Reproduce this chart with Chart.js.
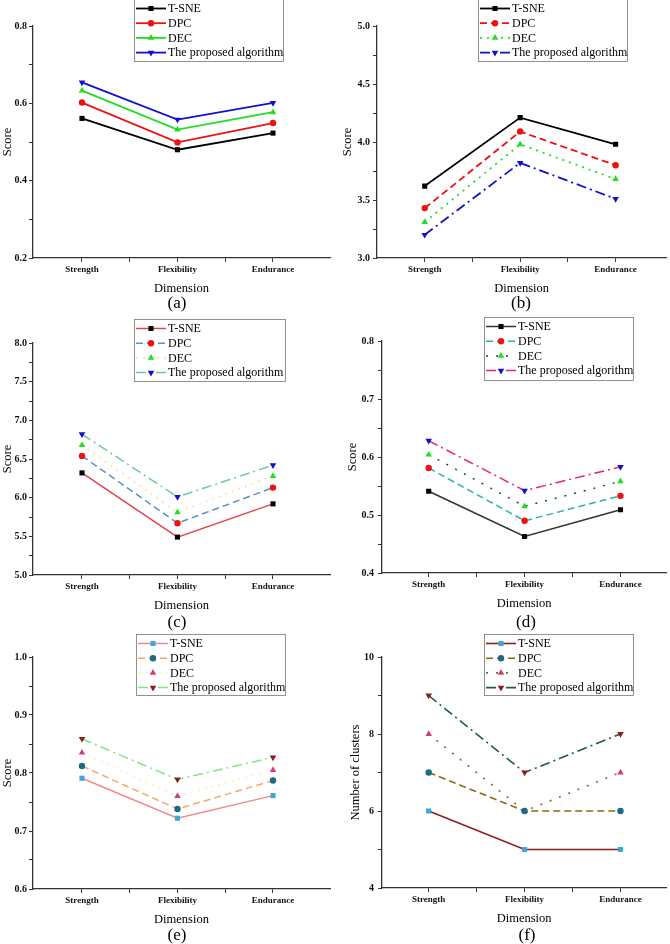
<!DOCTYPE html>
<html>
<head>
<meta charset="utf-8">
<script src="https://cdn.jsdelivr.net/npm/chart.js@4.4.1/dist/chart.umd.min.js"></script>
<style>
  body { margin: 0; background: #fff; width: 670px; height: 944px; position: relative; overflow: hidden; }
  canvas { position: absolute; }
  .letra { position: absolute; width: 40px; line-height: 20px; text-align: center;
           font-family: "Liberation Serif", serif; font-size: 17px; color: #000; }
</style>
</head>
<body>
<canvas id="ga" width="335" height="310" style="left:0;top:0"></canvas>
<canvas id="gb" width="335" height="310" style="left:335px;top:0"></canvas>
<canvas id="gc" width="335" height="315" style="left:0;top:310px"></canvas>
<canvas id="gd" width="335" height="315" style="left:335px;top:310px"></canvas>
<canvas id="ge" width="335" height="319" style="left:0;top:625px"></canvas>
<canvas id="gf" width="335" height="319" style="left:335px;top:625px"></canvas>
<div class="letra" style="left:157px;top:293px">(a)</div>
<div class="letra" style="left:501px;top:293px">(b)</div>
<div class="letra" style="left:157px;top:612px">(c)</div>
<div class="letra" style="left:506px;top:612px">(d)</div>
<div class="letra" style="left:157px;top:925px">(e)</div>
<div class="letra" style="left:507px;top:925px">(f)</div>
<script>
var dimensiones = ["Strength", "Flexibility", "Endurance"];
var metodos = ["T-SNE", "DPC", "DEC", "The proposed algorithm"];

// (a)
var a_tsne = [0.561, 0.480, 0.523];
var a_dpc  = [0.602, 0.499, 0.549];
var a_dec  = [0.633, 0.532, 0.577];
var a_prop = [0.654, 0.558, 0.601];
var a_ticks = [0.2, 0.4, 0.6, 0.8];
// (b)
var b_tsne = [3.62, 4.21, 3.98];
var b_dpc  = [3.43, 4.09, 3.80];
var b_dec  = [3.31, 3.98, 3.68];
var b_prop = [3.20, 3.82, 3.51];
var b_ticks = [3.0, 3.5, 4.0, 4.5, 5.0];
// (c)
var c_tsne = [6.32, 5.49, 5.92];
var c_dpc  = [6.54, 5.67, 6.13];
var c_dec  = [6.68, 5.81, 6.28];
var c_prop = [6.82, 6.01, 6.42];
var c_ticks = [5.0, 5.5, 6.0, 6.5, 7.0, 7.5, 8.0];
// (d)
var d_tsne = [0.541, 0.463, 0.509];
var d_dpc  = [0.581, 0.490, 0.533];
var d_dec  = [0.604, 0.515, 0.558];
var d_prop = [0.628, 0.542, 0.583];
var d_ticks = [0.4, 0.5, 0.6, 0.7, 0.8];
// (e)
var e_tsne = [0.791, 0.722, 0.761];
var e_dpc  = [0.812, 0.738, 0.787];
var e_dec  = [0.835, 0.760, 0.805];
var e_prop = [0.859, 0.789, 0.827];
var e_ticks = [0.6, 0.7, 0.8, 0.9, 1.0];
// (f)
var f_tsne = [6, 5, 5];
var f_dpc  = [7, 6, 6];
var f_dec  = [8, 6, 7];
var f_prop = [9, 7, 8];
var f_ticks = [4, 6, 8, 10];

var FUENTE = '"Liberation Serif", "Times New Roman", serif';
var formas = ["rect", "circle", "triangle", "triangle"];
var giros = [0, 0, 0, 180];
var radios = [3.6, 3.2, 3.8, 3.8];

var SOLIDA = [], RAYAS = [7, 4], PUNTOS = [2, 5], RAYAPUNTO = [10, 4, 2, 4];

// leyenda con marco, dibujada dentro del canvas
var leyenda = {
  id: "leyenda",
  afterDraw: function (chart, args, o) {
    var ctx = chart.ctx;
    ctx.save();
    ctx.strokeStyle = "#777";
    ctx.lineWidth = 0.8;
    ctx.strokeRect(o.x + 0.5, o.y + 0.5, o.w, o.h);
    chart.data.datasets.forEach(function (ds, i) {
      var y = o.y + 9.5 + i * 14.7;
      ctx.beginPath();
      ctx.setLineDash(ds.borderDash || []);
      ctx.strokeStyle = ds.borderColor;
      ctx.lineWidth = ds.borderWidth;
      ctx.moveTo(o.x + 2, y);
      ctx.lineTo(o.x + 32, y);
      ctx.stroke();
      ctx.setLineDash([]);
      ctx.fillStyle = ds.pointBackgroundColor;
      ctx.strokeStyle = ds.pointBackgroundColor;
      Chart.helpers.drawPoint(ctx, { pointStyle: ds.pointStyle, radius: ds.pointRadius, rotation: ds.pointRotation, borderWidth: 0 }, o.x + 17, y);
      ctx.fillStyle = "#000";
      ctx.font = "12px " + FUENTE;
      ctx.textBaseline = "middle";
      ctx.fillText(ds.label, o.x + 34, y + 0.5);
    });
    ctx.restore();
  }
};

function series_panel(cfg) {
  return cfg.valores.map(function (serie, k) {
    return {
      label: metodos[k],
      data: serie.map(function (v, i) { return { x: i, y: v }; }),
      borderColor: cfg.lineas[k],
      borderWidth: cfg.grosor,
      borderDash: cfg.trazos[k],
      pointStyle: formas[k],
      pointRotation: giros[k],
      pointRadius: radios[k],
      pointHoverRadius: radios[k],
      pointBackgroundColor: cfg.marcas[k],
      pointBorderColor: cfg.marcas[k],
      pointBorderWidth: 0,
      tension: 0,
      fill: false
    };
  });
}

function crear_grafico(id, cfg) {
  var t = cfg.ticks;
  var paso = (t[1] - t[0]) / 2;
  function es_mayor(v) {
    return t.some(function (m) { return Math.abs(m - v) < 1e-6; });
  }
  return new Chart(document.getElementById(id), {
    type: "line",
    data: { datasets: series_panel(cfg) },
    options: {
      responsive: false,
      animation: false,
      events: [],
      layout: { padding: { top: cfg.area.top, right: cfg.area.right, bottom: cfg.area.bottom, left: 0 } },
      plugins: { legend: { display: false }, tooltip: { enabled: false }, leyenda: cfg.leyenda },
      scales: {
        x: {
          type: "linear",
          min: cfg.xmin,
          max: cfg.xmax,
          afterFit: function (s) { s.height = 38; },
          border: { color: "#333", width: 1.3 },
          grid: {
            drawOnChartArea: false, drawTicks: true, tickLength: 4,
            tickColor: function (c) {
              if (!c.tick) return "#333";
              return (c.tick.value < -0.1 || c.tick.value > 2.2) ? "rgba(0,0,0,0)" : "#333";
            }
          },
          ticks: {
            stepSize: 0.5, autoSkip: false, maxRotation: 0, includeBounds: false, padding: 2,
            color: "#111", font: { family: FUENTE, size: 9, weight: "bold" },
            callback: function (v) {
              return (Number.isInteger(v) && v >= 0 && v <= 2) ? dimensiones[v] : "";
            }
          },
          title: { display: true, text: "Dimension", color: "#000", font: { family: FUENTE, size: 12.5 }, padding: 0 }
        },
        y: {
          min: t[0],
          max: t[t.length - 1],
          afterFit: function (s) { s.width = cfg.area.left; },
          border: { color: "#333", width: 1.3 },
          grid: { drawOnChartArea: false, drawTicks: true, tickLength: 4, tickColor: "#333" },
          ticks: {
            stepSize: paso, autoSkip: false, maxTicksLimit: 20, includeBounds: false, padding: cfg.relleno,
            color: "#111", font: { family: FUENTE, size: 10, weight: "bold" },
            callback: function (v) { return es_mayor(v) ? v.toFixed(cfg.decimales) : ""; }
          },
          title: { display: true, text: cfg.titulo_y, color: "#000", font: { family: FUENTE, size: 12.5 }, padding: { top: cfg.titulo_pad, bottom: 0 } }
        }
      }
    },
    plugins: [leyenda]
  });
}

var NEGRO = "#000000", ROJO = "#ee1111", VERDE = "#22dd22", AZUL = "#1111cc";
var CELESTE = "#3aa6dc", PETROLEO = "#1c6b82", ROSA = "#cf3f77", GRANATE = "#8c1c22";

crear_grafico("ga", {
  valores: [a_tsne, a_dpc, a_dec, a_prop], ticks: a_ticks, decimales: 1, titulo_y: "Score", titulo_pad: 0, relleno: 2,
  lineas: [NEGRO, ROJO, VERDE, AZUL], marcas: [NEGRO, ROJO, VERDE, AZUL],
  trazos: [SOLIDA, SOLIDA, SOLIDA, SOLIDA], grosor: 1.8,
  area: { left: 33, top: 26, right: 5, bottom: 14 }, xmin: -0.513, xmax: 2.597,
  leyenda: { x: 134, y: -1, w: 149, h: 62 }
});

crear_grafico("gb", {
  valores: [b_tsne, b_dpc, b_dec, b_prop], ticks: b_ticks, decimales: 1, titulo_y: "Score", titulo_pad: 5, relleno: 3,
  lineas: [NEGRO, ROJO, VERDE, AZUL], marcas: [NEGRO, ROJO, VERDE, AZUL],
  trazos: [SOLIDA, RAYAS, PUNTOS, RAYAPUNTO], grosor: 1.8,
  area: { left: 42, top: 26, right: 2, bottom: 14 }, xmin: -0.5, xmax: 2.53,
  leyenda: { x: 143, y: -1, w: 149, h: 62 }
});

crear_grafico("gc", {
  valores: [c_tsne, c_dpc, c_dec, c_prop], ticks: c_ticks, decimales: 1, titulo_y: "Score", titulo_pad: 0, relleno: 2,
  lineas: ["#e0474c", "#5b8fc7", "#f5e2a0", "#6cc9a3"], marcas: [NEGRO, ROJO, VERDE, AZUL],
  trazos: [SOLIDA, RAYAS, PUNTOS, RAYAPUNTO], grosor: 1.5,
  area: { left: 33, top: 33, right: 5, bottom: 12 }, xmin: -0.513, xmax: 2.597,
  leyenda: { x: 134, y: 9, w: 151, h: 62 }
});

crear_grafico("gd", {
  valores: [d_tsne, d_dpc, d_dec, d_prop], ticks: d_ticks, decimales: 1, titulo_y: "Score", titulo_pad: 10, relleno: 4,
  lineas: ["#333333", "#29b3ad", "#23405e", "#e3237b"], marcas: [NEGRO, ROJO, VERDE, AZUL],
  trazos: [SOLIDA, RAYAS, [2, 8], RAYAPUNTO], grosor: 1.5,
  area: { left: 47, top: 31, right: 2, bottom: 14 }, xmin: -0.487, xmax: 2.477,
  leyenda: { x: 149, y: 7, w: 149, h: 63 }
});

crear_grafico("ge", {
  valores: [e_tsne, e_dpc, e_dec, e_prop], ticks: e_ticks, decimales: 1, titulo_y: "Score", titulo_pad: 0, relleno: 2,
  lineas: ["#f08a8a", "#f4a96a", "#fbeeb0", "#7ee87e"], marcas: [CELESTE, PETROLEO, ROSA, GRANATE],
  trazos: [SOLIDA, RAYAS, PUNTOS, RAYAPUNTO], grosor: 1.5,
  area: { left: 33, top: 32, right: 5, bottom: 17 }, xmin: -0.513, xmax: 2.597,
  leyenda: { x: 136, y: 9, w: 149, h: 61 }
});

crear_grafico("gf", {
  valores: [f_tsne, f_dpc, f_dec, f_prop], ticks: f_ticks, decimales: 0, titulo_y: "Number of clusters", titulo_pad: 13, relleno: 4,
  lineas: ["#8b1f1f", "#8c6a14", "#7d6b2e", "#1e5c4a"], marcas: [CELESTE, PETROLEO, ROSA, GRANATE],
  trazos: [SOLIDA, RAYAS, [2, 8], RAYAPUNTO], grosor: 1.6,
  area: { left: 47, top: 32, right: 2, bottom: 18 }, xmin: -0.487, xmax: 2.477,
  leyenda: { x: 149, y: 9, w: 149, h: 61 }
});
</script>
</body>
</html>
